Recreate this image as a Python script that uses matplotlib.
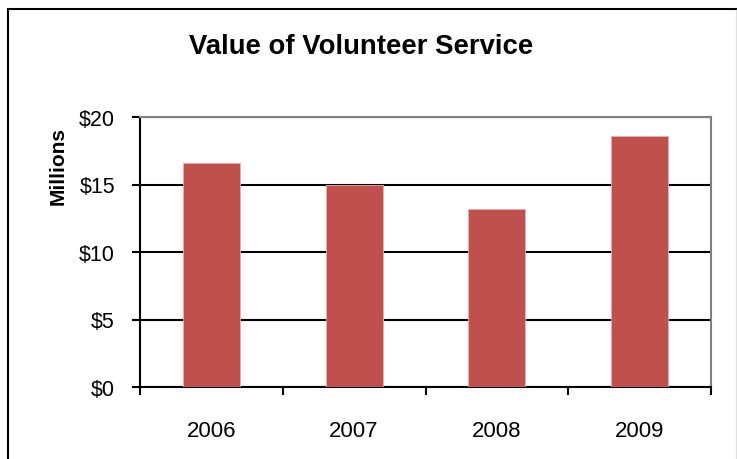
import numpy as np
import matplotlib.pyplot as plt
from matplotlib.patches import Rectangle

plt.rcParams['font.family'] = ['Liberation Sans', 'DejaVu Sans']

years = ["2006", "2007", "2008", "2009"]
values = [16.6, 15.0, 13.2, 18.6]
y_ticks = [0, 5, 10, 15, 20]
y_labels = ["$0", "$5", "$10", "$15", "$20"]

fig = plt.figure(figsize=(7.37, 4.60), dpi=100)
ax = fig.add_axes([140 / 737, 72 / 460, 571 / 737, 270 / 460])

x = np.arange(len(years))
ax.bar(x, values, width=0.4, color="#C0504D", edgecolor="#E8B0AE", linewidth=0.6, zorder=3)

ax.set_xlim(-0.5, len(years) - 0.5)
ax.set_ylim(0, 20)
ax.set_yticks(y_ticks)
ax.set_yticklabels(y_labels, fontsize=15.5)
ax.yaxis.grid(True, color="black", linewidth=1.5, zorder=1)
ax.set_axisbelow(True)

# category labels centred, tick marks at category boundaries
ax.set_xticks(x)
ax.set_xticklabels(years, fontsize=16)
ax.tick_params(axis="x", which="major", length=0, pad=24)
ax.set_xticks(np.arange(-0.5, len(years)), minor=True)
ax.tick_params(axis="x", which="minor", length=6, width=1.5, direction="out")
ax.tick_params(axis="y", length=6, width=1.5, direction="out", pad=12)

for side in ["left", "bottom"]:
    ax.spines[side].set_color("black")
    ax.spines[side].set_linewidth(1.5)
for side in ["top", "right"]:
    ax.spines[side].set_color("#808080")
    ax.spines[side].set_linewidth(1.5)

fig.text(361 / 737, 1 - 47 / 460, "Value of Volunteer Service", ha="center", va="center",
         fontsize=19.8, fontweight="bold")
fig.text(58 / 737, 1 - 166 / 460, "Millions", ha="center", va="center", rotation=90,
         fontsize=15, fontweight="bold")

# outer chart border (cut off at right and bottom like the source)
fig.patches.append(Rectangle((8 / 737, -0.05), 1.2, 1 - 10 / 460 + 0.05, transform=fig.transFigure,
                             fill=False, edgecolor="black", linewidth=1.5))
fig.lines.append(plt.Line2D([736 / 737, 736 / 737], [0, 1 - 11 / 460], transform=fig.transFigure,
                            color="#E0E0E0", linewidth=1))

fig.savefig("out.png", dpi=100)
plt.close(fig)
